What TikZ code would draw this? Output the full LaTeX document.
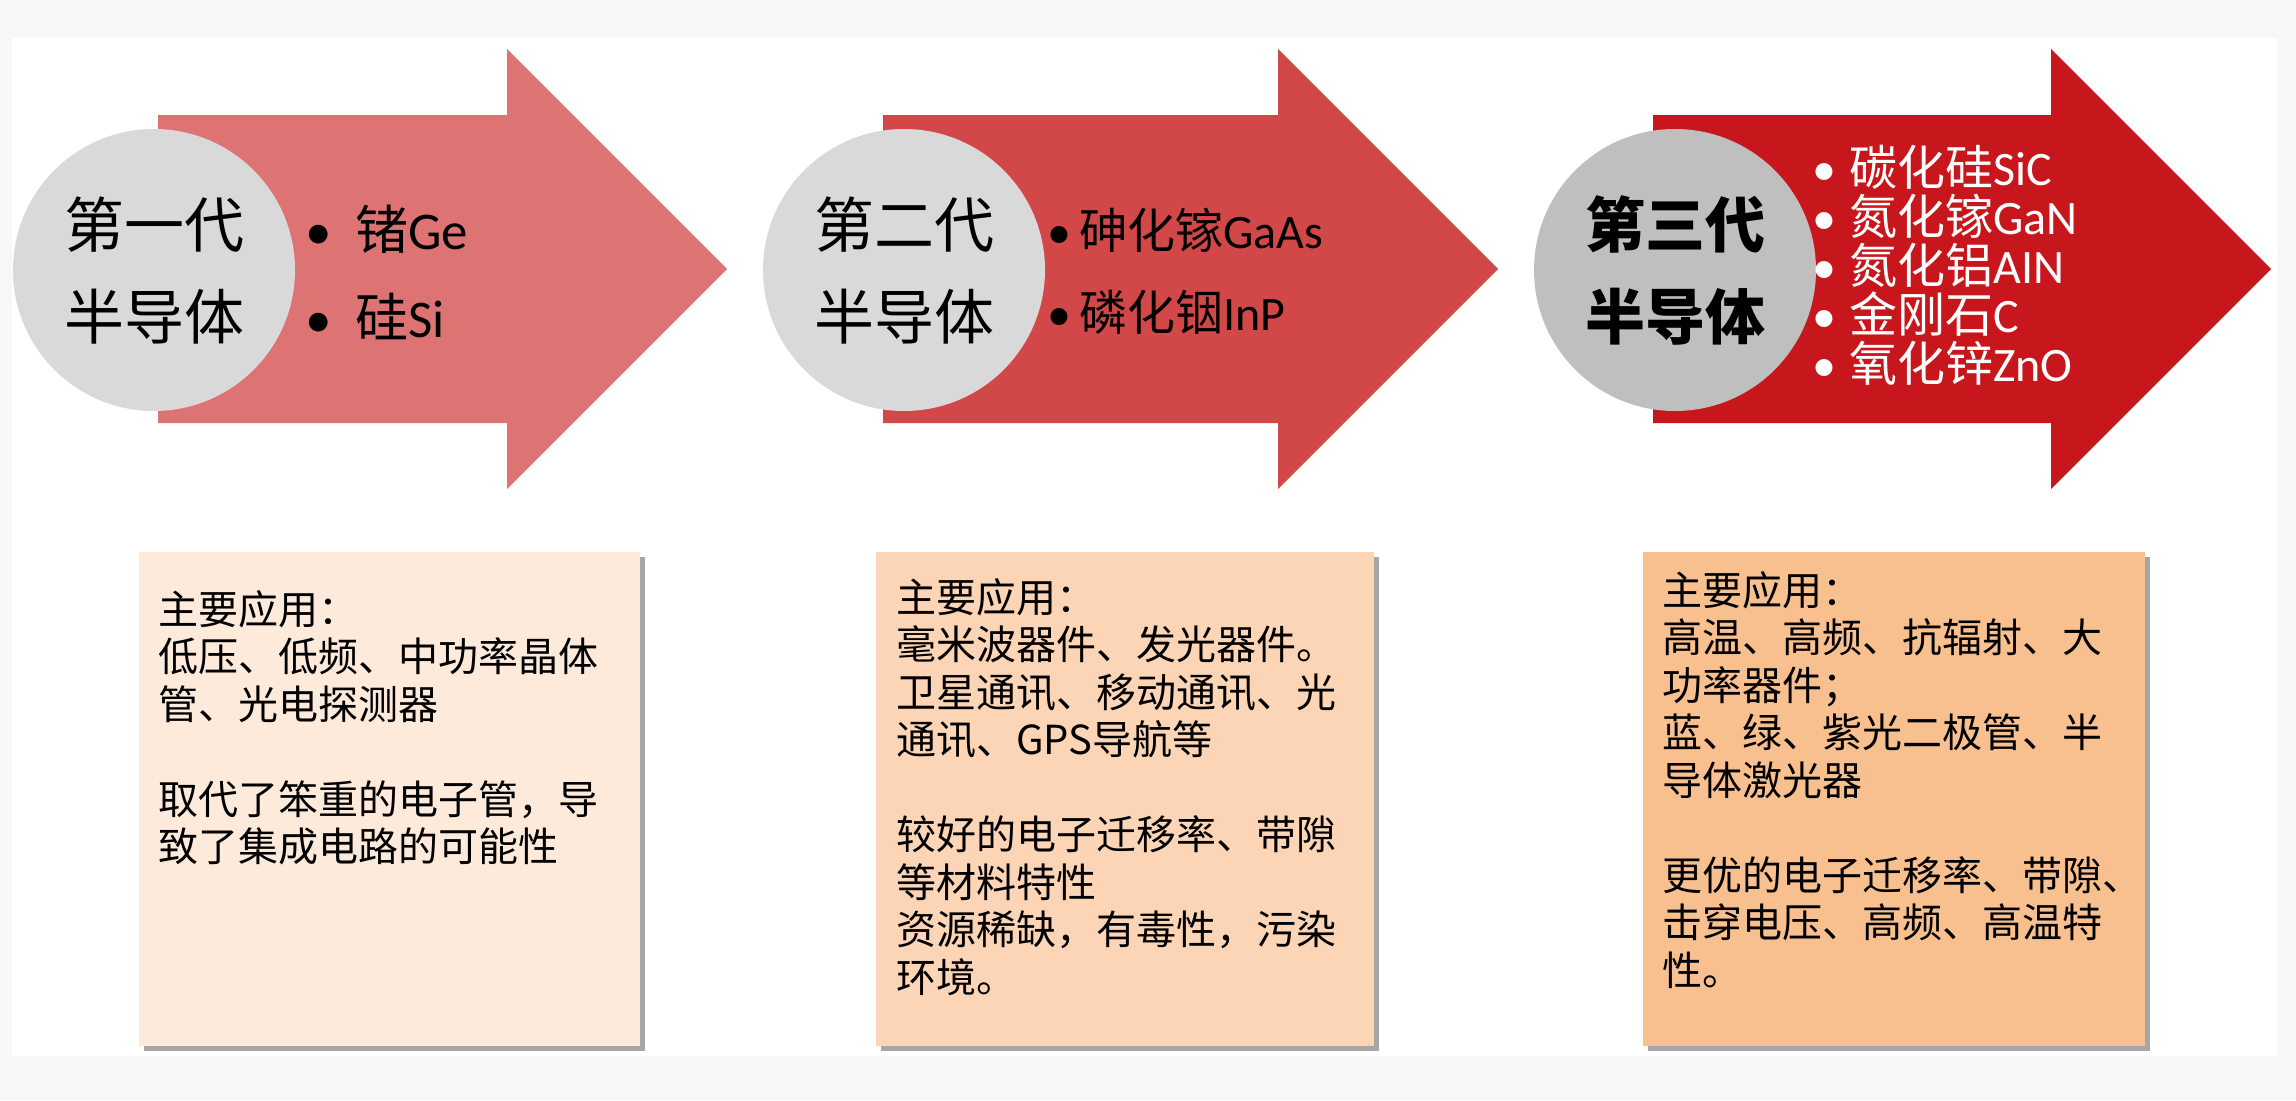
\documentclass[tikz,border=0pt]{standalone}
\usepackage{fontspec}
\setmainfont{Noto Sans CJK SC}
\newfontfamily\lat{Carlito}
\usetikzlibrary{shadows}
\definecolor{pagegrey}{HTML}{F7F7F7}
\definecolor{arrA}{HTML}{DD7373}
\definecolor{arrB}{HTML}{D24747}
\definecolor{arrC}{HTML}{C8171C}
\definecolor{circA}{HTML}{D9D9D9}
\definecolor{circC}{HTML}{BFBFBF}
\definecolor{boxA}{HTML}{FDEADB}
\definecolor{boxB}{HTML}{FBD5B5}
\definecolor{boxC}{HTML}{F9C08F}
\newcommand\mybul[1]{\makebox[#1][l]{\lat •}}
\newcommand\bigarrow[3]{%
  \fill[#3] (#1,115) -- (#2,115) -- (#2,49) -- ($(#2,269)+(220,0)$) -- (#2,489) -- (#2,423) -- (#1,423) -- cycle;}
\usetikzlibrary{calc}
\tikzset{
  gen/.style={circle, minimum size=282pt, inner sep=0pt, align=center,
    font=\fontsize{60}{92}\selectfont},
  mats/.style={anchor=west, inner sep=0pt, align=left},
  appbox/.style={rectangle, minimum height=494pt, inner sep=0pt,
    drop shadow={shadow xshift=5pt, shadow yshift=-5pt, fill=black, opacity=0.35}},
  apptext/.style={anchor=north west, inner sep=0pt, align=left,
    font=\fontsize{40}{47.5}\selectfont}
}
\begin{document}
\begin{tikzpicture}[x=1pt,y=-1pt]
\useasboundingbox (0,0) rectangle (2296,1100);
\fill[pagegrey] (0,0) rectangle (2296,1100);
\fill[white] (12,38) rectangle (2278,1056);

% arrows
\bigarrow{158}{507}{arrA}
\bigarrow{883}{1278}{arrB}
\bigarrow{1653}{2051}{arrC}

% generation circles
\node[gen, fill=circA] (g1) at (154,270) {第一代\\半导体};
\node[gen, fill=circA] (g2) at (904,270) {第二代\\半导体};
\node[gen, fill=circC, font=\fontsize{60}{92}\selectfont\bfseries] (g3) at (1675,270) {第三代\\半导体};

% materials
\node[mats, font=\fontsize{53}{88}\selectfont] (m1) at (305,272)
  {\mybul{50pt}锗{\lat Ge}\\\mybul{50pt}硅{\lat Si}};
\node[mats, font=\fontsize{48}{82}\selectfont] (m2) at (1047,271)
  {\mybul{32pt}砷化镓{\lat GaAs}\\\mybul{32pt}磷化铟{\lat InP}};
\node[mats, text=white, font=\fontsize{48}{49}\selectfont] (m3) at (1812,265)
  {\mybul{37pt}碳化硅{\lat SiC}\\\mybul{37pt}氮化镓{\lat GaN}\\\mybul{37pt}氮化铝{\lat AIN}\\\mybul{37pt}金刚石{\lat C}\\\mybul{37pt}氧化锌{\lat ZnO}};

% application boxes
\node[appbox, fill=boxA, minimum width=501pt] (b1) at (389.5,799) {};
\node[appbox, fill=boxB, minimum width=498pt] (b2) at (1125,799) {};
\node[appbox, fill=boxC, minimum width=502pt] (b3) at (1894,799) {};

\node[apptext] (t1) at (158,590) {主要应用：\\低压、低频、中功率晶体\\管、光电探测器\\[47.5pt]取代了笨重的电子管，导\\致了集成电路的可能性};
\node[apptext] (t2) at (896,578) {主要应用：\\毫米波器件、发光器件。\\卫星通讯、移动通讯、光\\通讯、GPS导航等\\[47.5pt]较好的电子迁移率、带隙\\等材料特性\\资源稀缺，有毒性，污染\\环境。};
\node[apptext] (t3) at (1662,571) {主要应用：\\高温、高频、抗辐射、大\\功率器件；\\蓝、绿、紫光二极管、半\\导体激光器\\[47.5pt]更优的电子迁移率、带隙、\\击穿电压、高频、高温特\\性。};
\end{tikzpicture}
\end{document}
